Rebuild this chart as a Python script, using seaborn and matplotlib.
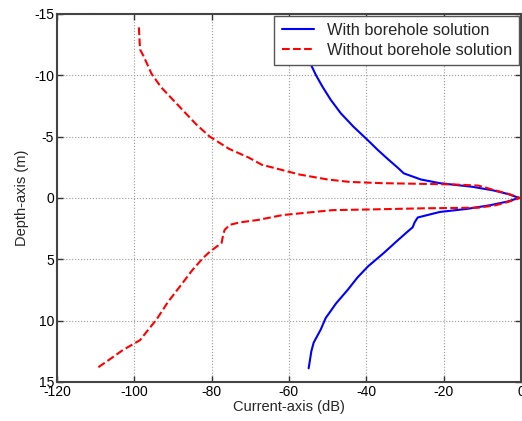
import matplotlib
matplotlib.use("Agg")
import matplotlib.pyplot as plt
import seaborn as sns

# curve readings (depth in m, current in dB)
with_depth = [-14, -12.5, -11.25, -10, -9.05, -8, -6.9, -5.8, -4.7, -3.9, -3.1,
              -2.5, -2.0, -1.5, -1.2, -0.9, -0.6, -0.3, 0, 0.3, 0.6, 0.9, 1.15,
              1.6, 2.0, 2.4, 2.8, 3.5, 4.5, 5.6, 6.5, 7.5, 8.6, 9.8, 10.75,
              11.8, 12.5, 13.9]
with_current = [-57.5, -56.2, -54.9, -53.0, -51.3, -49.2, -46.6, -43.3, -39.6,
                -37.0, -34.2, -32.0, -30.3, -25.9, -21.0, -12.5, -7.0, -3.2,
                -0.5, -3.5, -8.0, -14.0, -21.0, -26.7, -27.5, -28.0, -29.5,
                -32.0, -35.5, -39.6, -42.3, -44.8, -47.8, -50.5, -51.8, -53.6,
                -54.2, -54.9]

without_depth = [-13.9, -12.1, -11.5, -10.1, -9, -8, -7, -6, -5, -4, -3.3, -2.7,
                 -1.9, -1.5, -1.3, -1.2, -1.1, -1.0, -0.6, -0.3, 0, 0.3, 0.6,
                 0.8, 0.85, 0.95, 1.0, 1.4, 1.8, 2.0, 2.2, 2.6, 3.0, 3.67, 4.4,
                 4.9, 5.9, 6.9, 8.5, 9.9, 10.8, 11.6, 12.4, 13.2, 13.9]
without_current = [-98.8, -98.5, -97.5, -95.5, -93.0, -90.0, -87.0, -84.0,
                   -80.5, -75.5, -70.5, -67.0, -57.2, -50.0, -44.3, -36.0,
                   -18.0, -11.0, -6.5, -3.0, -0.3, -3.0, -6.5, -11.0, -25.0,
                   -40.0, -48.7, -61.6, -68.0, -72.7, -75.3, -76.6, -77.0,
                   -77.4, -80.5, -82.2, -85.0, -87.4, -91.3, -94.2, -96.5,
                   -98.5, -102.9, -106.5, -109.7]

x_ticks = [-120, -100, -80, -60, -40, -20, 0]
y_ticks = [-15, -10, -5, 0, 5, 10, 15]

sns.set_style("ticks")
plt.rcParams["font.family"] = ["Liberation Sans", "DejaVu Sans"]
plt.rcParams["font.size"] = 10
plt.rcParams["axes.unicode_minus"] = False

fig = plt.figure(figsize=(5.22, 4.21), dpi=100)
ax = fig.add_axes([0.109, 0.093, 0.889, 0.874])

sns.lineplot(x=with_current, y=with_depth, sort=False, estimator=None,
             color="#0000ff", linewidth=1.5, label="With borehole solution", ax=ax)
sns.lineplot(x=without_current, y=without_depth, sort=False, estimator=None,
             color="#ff0000", linewidth=1.5, linestyle="--", dashes=(3, 1.5),
             label="Without borehole solution", ax=ax)

ax.set_xlim(-120, 0)
ax.set_ylim(15, -15)
ax.set_xticks(x_ticks)
ax.set_yticks(y_ticks)
ax.set_xlabel("Current-axis (dB)", fontsize=10.5, labelpad=1)
ax.set_ylabel("Depth-axis (m)", fontsize=10.5, labelpad=4)

ax.grid(True, linestyle=":", color="#999999", linewidth=0.8)
ax.tick_params(direction="in", length=4, width=1, top=True, right=True,
               labelsize=10, pad=2, colors="#333333")
ax.tick_params(labelcolor="black")
for s in ax.spines.values():
    s.set_visible(True)
    s.set_linewidth(1.5)
    s.set_color("#444444")

leg = ax.legend(loc="upper right", fontsize=11.8, fancybox=False, framealpha=1,
                borderaxespad=0.1, handlelength=2.0, handletextpad=0.75,
                borderpad=0.45, labelspacing=0.3)
leg.get_frame().set_edgecolor("#555555")
leg.get_frame().set_linewidth(1.0)

fig.savefig("out.png", dpi=100)
